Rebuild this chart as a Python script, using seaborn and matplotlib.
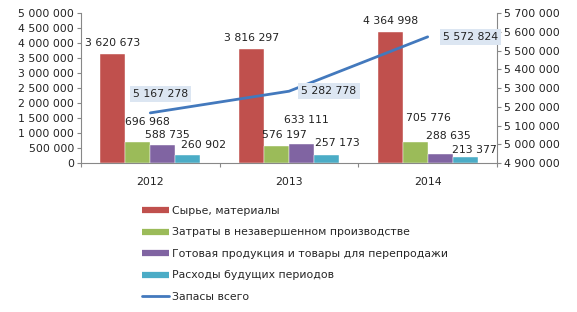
import numpy as np
import pandas as pd
import matplotlib
matplotlib.use("Agg")
import matplotlib.pyplot as plt
from matplotlib.lines import Line2D
from matplotlib.ticker import FuncFormatter, MultipleLocator, FixedLocator
import seaborn as sns

years = ["2012", "2013", "2014"]
categories = [
    "Сырье, материалы",
    "Затраты в незавершенном производстве",
    "Готовая продукция и товары для перепродажи",
    "Расходы будущих периодов",
]
raw_materials = [3620673, 3816297, 4364998]
wip_costs = [696968, 576197, 705776]
finished_goods = [588735, 633111, 288635]
deferred_exp = [260902, 257173, 213377]
total_label = "Запасы всего"
total_stock = [5167278, 5282778, 5572824]

series = [raw_materials, wip_costs, finished_goods, deferred_exp]
colors = ["#C0504D", "#9BBB59", "#8064A2", "#4BACC6"]
line_color = "#4379BD"

df = pd.DataFrame(
    [(y, c, v) for c, vals in zip(categories, series) for y, v in zip(years, vals)],
    columns=["year", "category", "value"],
)

sns.set_theme(style="white")
plt.rcParams["font.family"] = ["DejaVu Sans"]
FS = 7.8

def fmt(v, pos=None):
    return f"{int(round(v)):,}".replace(",", " ")

fig = plt.figure(figsize=(5.77, 3.12), dpi=100)
ax = fig.add_axes([81 / 577, 1 - 163 / 312, (497 - 81) / 577, 150 / 312])

sns.barplot(data=df, x="year", y="value", hue="category", hue_order=categories,
            palette=colors, width=0.72, ax=ax, legend=False,
            edgecolor="white", linewidth=0.3, saturation=1)
ax.set_xlim(-0.5, 2.5)
ax.set_ylim(0, 5000000)
ax.yaxis.set_major_locator(MultipleLocator(500000))
ax.yaxis.set_major_formatter(FuncFormatter(fmt))
ax.set_xlabel("")
ax.set_ylabel("")

# label offsets in pixels (dx, dy) per hue/year
offsets = [
    [(0, 11), (0, 11), (0, 11)],
    [(10, 20), (8, 11), (13, 24)],
    [(5, 10), (5, 24), (8, 18)],
    [(16, 10), (11, 12), (9, 7)],
]
for ci, cont in enumerate(ax.containers):
    for yi, bar in enumerate(cont.patches):
        x = bar.get_x() + bar.get_width() / 2
        h = bar.get_height()
        dx, dy = offsets[ci][yi]
        ax.annotate(fmt(h), xy=(x, h), xytext=(dx, dy), textcoords="offset pixels",
                    ha="center", va="center", fontsize=FS, color="#222222")

ax2 = ax.twinx()
xpos = np.arange(len(years))
sns.lineplot(x=xpos, y=total_stock, ax=ax2, color=line_color, linewidth=2)
ax2.set_ylim(4900000, 5700000)
ax2.yaxis.set_major_locator(MultipleLocator(100000))
ax2.yaxis.set_major_formatter(FuncFormatter(fmt))
ax2.set_xlim(-0.5, 2.5)

line_offsets = [(10, 19), (40, 0), (43, 0)]
for i, v in enumerate(total_stock):
    dx, dy = line_offsets[i]
    ax2.annotate(fmt(v), xy=(xpos[i], v), xytext=(dx, dy), textcoords="offset pixels",
                 ha="center", va="center", fontsize=FS, color="#222222",
                 bbox=dict(boxstyle="square,pad=0.3", fc="#DCE6F2", ec="none"))

spine_c = "#888888"
for a in (ax, ax2):
    a.spines["top"].set_visible(False)
    for s in a.spines.values():
        s.set_color(spine_c)
        s.set_linewidth(0.8)
ax.spines["right"].set_visible(False)
ax2.spines["left"].set_visible(False)
ax2.spines["bottom"].set_visible(False)

ax.tick_params(axis="y", which="major", direction="out", length=3, width=0.8,
               color=spine_c, labelsize=FS, labelcolor="#222222", pad=2, left=True)
ax2.tick_params(axis="y", which="major", direction="out", length=3, width=0.8,
                color=spine_c, labelsize=FS, labelcolor="#222222", pad=2, right=True)
ax.xaxis.set_minor_locator(FixedLocator([-0.5, 0.5, 1.5, 2.5]))
ax.tick_params(axis="x", which="major", length=0, labelsize=FS, labelcolor="#222222", pad=10)
ax.tick_params(axis="x", which="minor", direction="out", length=3, width=0.8,
               color=spine_c, bottom=True)

handles = [Line2D([0], [0], color=c, lw=4.5, solid_capstyle="butt") for c in colors]
handles.append(Line2D([0], [0], color=line_color, lw=2))
labels = categories + [total_label]
fig.legend(handles, labels, loc="upper left", bbox_to_anchor=(142 / 577, 1 - 206 / 312),
           frameon=False, fontsize=FS, handlelength=2.5, handletextpad=0.3,
           labelspacing=1.06, borderaxespad=0, borderpad=0)

fig.savefig("out.png", dpi=100)
